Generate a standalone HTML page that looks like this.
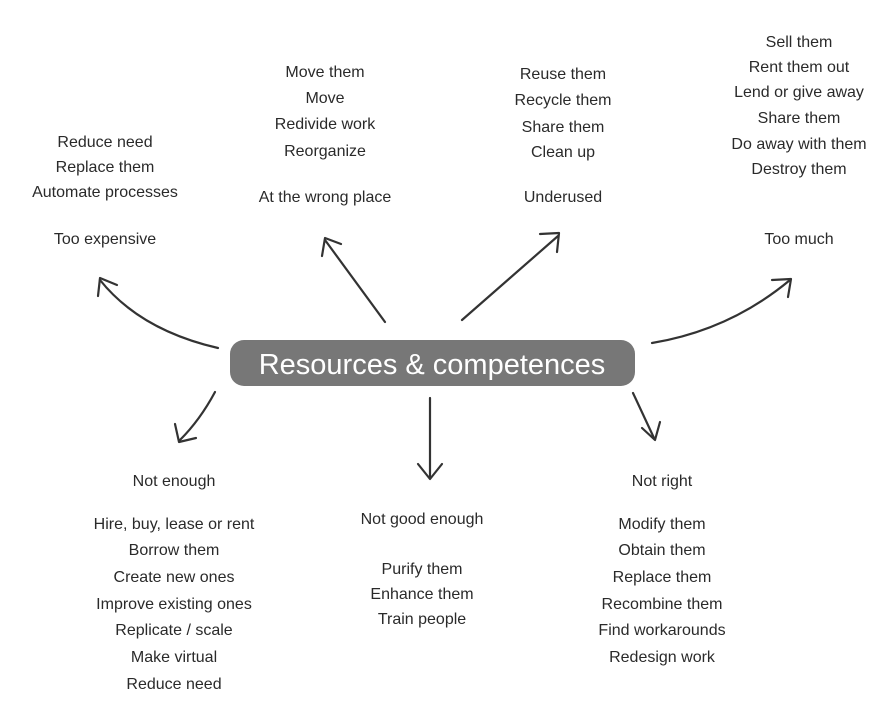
<!DOCTYPE html>
<html><head><meta charset="utf-8"><style>
html,body{margin:0;padding:0;background:#fff;}
#c{position:relative;width:895px;height:720px;overflow:hidden;font-family:"Liberation Sans",sans-serif;color:#2a2a2a;}
.t{position:absolute;transform:translate(-50%,-50%);white-space:nowrap;font-size:16px;}
svg{position:absolute;left:0;top:0;}
</style></head><body><div id="c">
<svg width="895" height="720" viewBox="0 0 895 720">
<rect x="230" y="340" width="405" height="46" rx="14" fill="#777"/>
<g fill="none" stroke="#333" stroke-width="2.2" stroke-linecap="round" stroke-linejoin="round">
<path d="M218 348 Q140 330 100 280"/><path d="M98 296 L100 278 L117 285"/>
<path d="M385 322 L325 240"/><path d="M322 256 L325 238 L341 244"/>
<path d="M462 320 L558 236"/><path d="M540 234 L559 233 L557 252"/>
<path d="M652 343 Q730 330 790 280"/><path d="M772 280 L791 279 L788 297"/>
<path d="M215 392 Q200 420 180 440"/><path d="M175 424 L179 442 L196 438"/>
<path d="M430 398 L430 478"/><path d="M418 464 L430 479 L442 464"/>
<path d="M633 393 L654 438"/><path d="M642 428 L655 440 L660 422"/>
</g>
<text x="432" y="374" text-anchor="middle" fill="#fff" font-family="Liberation Sans, sans-serif" font-size="29">Resources &amp; competences</text>
</svg>
<div class="t" style="left:105px;top:143px">Reduce need</div>
<div class="t" style="left:105px;top:168px">Replace them</div>
<div class="t" style="left:105px;top:193px">Automate processes</div>
<div class="t" style="left:105px;top:240px">Too expensive</div>
<div class="t" style="left:325px;top:73px">Move them</div>
<div class="t" style="left:325px;top:99px">Move</div>
<div class="t" style="left:325px;top:125px">Redivide work</div>
<div class="t" style="left:325px;top:152px">Reorganize</div>
<div class="t" style="left:325px;top:198px">At the wrong place</div>
<div class="t" style="left:563px;top:75px">Reuse them</div>
<div class="t" style="left:563px;top:101px">Recycle them</div>
<div class="t" style="left:563px;top:128px">Share them</div>
<div class="t" style="left:563px;top:153px">Clean up</div>
<div class="t" style="left:563px;top:198px">Underused</div>
<div class="t" style="left:799px;top:43px">Sell them</div>
<div class="t" style="left:799px;top:68px">Rent them out</div>
<div class="t" style="left:799px;top:93px">Lend or give away</div>
<div class="t" style="left:799px;top:119px">Share them</div>
<div class="t" style="left:799px;top:145px">Do away with them</div>
<div class="t" style="left:799px;top:170px">Destroy them</div>
<div class="t" style="left:799px;top:240px">Too much</div>
<div class="t" style="left:174px;top:482px">Not enough</div>
<div class="t" style="left:174px;top:525px">Hire, buy, lease or rent</div>
<div class="t" style="left:174px;top:551px">Borrow them</div>
<div class="t" style="left:174px;top:578px">Create new ones</div>
<div class="t" style="left:174px;top:605px">Improve existing ones</div>
<div class="t" style="left:174px;top:631px">Replicate / scale</div>
<div class="t" style="left:174px;top:658px">Make virtual</div>
<div class="t" style="left:174px;top:685px">Reduce need</div>
<div class="t" style="left:422px;top:520px">Not good enough</div>
<div class="t" style="left:422px;top:570px">Purify them</div>
<div class="t" style="left:422px;top:595px">Enhance them</div>
<div class="t" style="left:422px;top:620px">Train people</div>
<div class="t" style="left:662px;top:482px">Not right</div>
<div class="t" style="left:662px;top:525px">Modify them</div>
<div class="t" style="left:662px;top:551px">Obtain them</div>
<div class="t" style="left:662px;top:578px">Replace them</div>
<div class="t" style="left:662px;top:605px">Recombine them</div>
<div class="t" style="left:662px;top:631px">Find workarounds</div>
<div class="t" style="left:662px;top:658px">Redesign work</div>
</div></body></html>
